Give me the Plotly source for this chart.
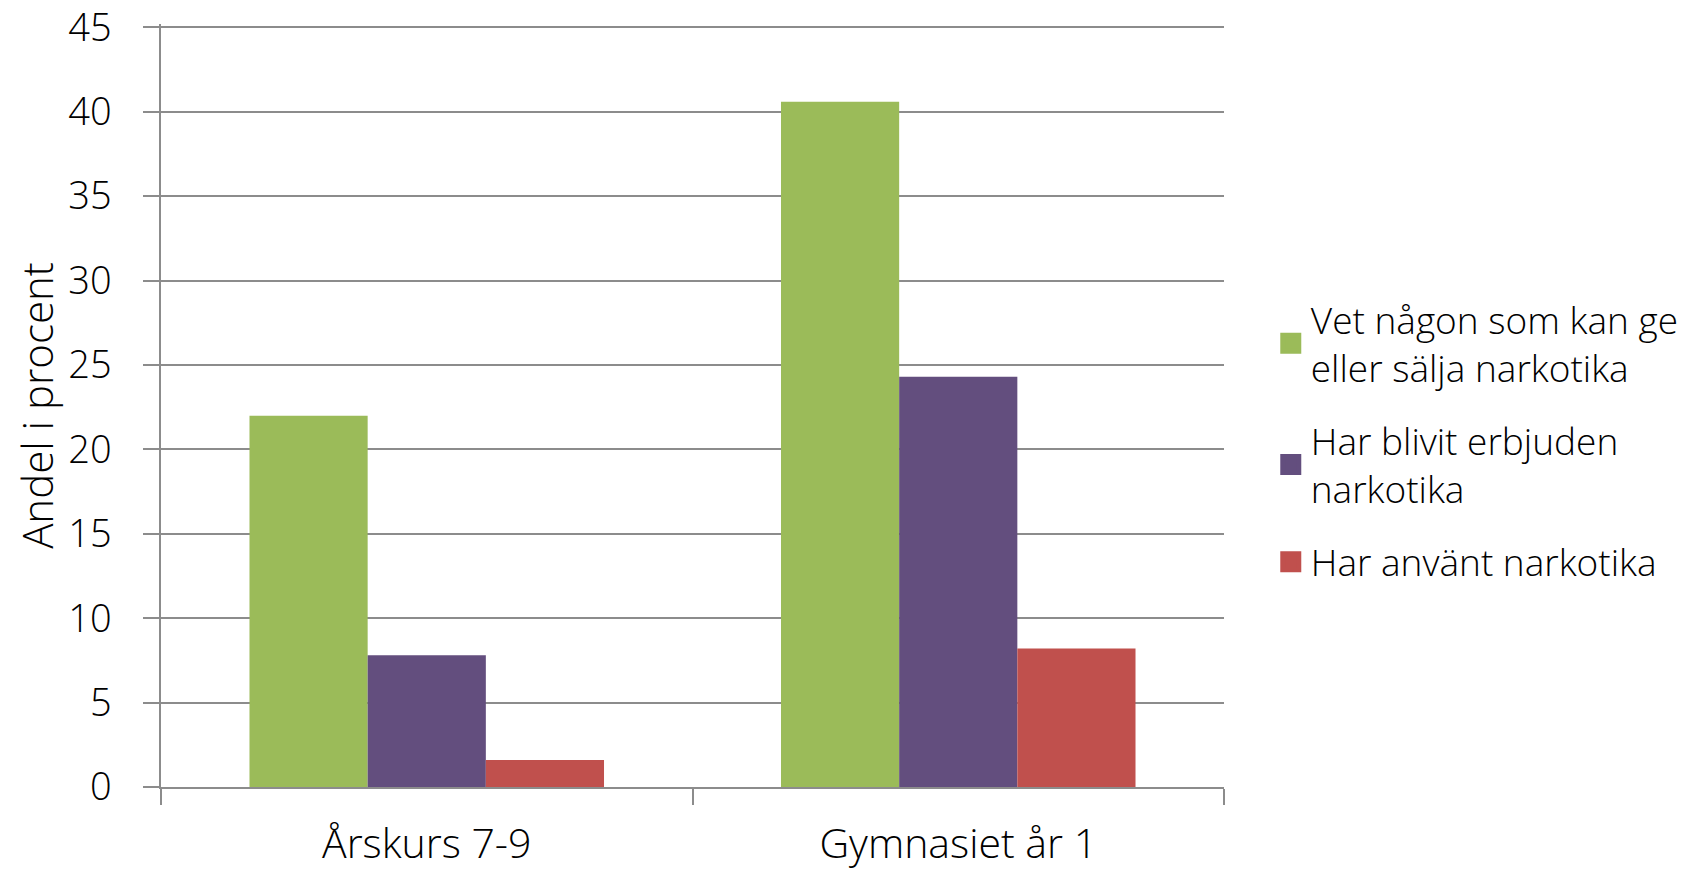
import plotly.graph_objects as go

categories = ["Årskurs 7-9", "Gymnasiet år 1"]
series_names = [
    "Vet någon som kan ge<br>eller sälja narkotika",
    "Har blivit erbjuden<br>narkotika",
    "Har använt narkotika",
]
vet_nagon = [22.0, 40.6]
erbjuden = [7.8, 24.3]
anvant = [1.6, 8.2]
colors = ["#9BBB59", "#634E7E", "#C0504D"]
y_ticks = [0, 5, 10, 15, 20, 25, 30, 35, 40, 45]

FONT = "Open Sans"
fig = go.Figure()
for i, (name, vals, col) in enumerate(zip(series_names, [vet_nagon, erbjuden, anvant], colors)):
    fig.add_trace(go.Bar(
        x=categories, y=vals, name=name,
        marker=dict(color=col, line=dict(width=0)),
        legendgroup=f"g{i}", showlegend=False,
    ))
    # legend entry with a larger square swatch
    fig.add_trace(go.Scatter(
        x=[None], y=[None], mode="markers", name=name,
        marker=dict(symbol="square", size=16, color=col,
                    line=dict(color=col, width=5)),
        legendgroup=f"g{i}", showlegend=True, hoverinfo="skip",
    ))

grid = "#8C8C8C"
fig.update_layout(
    width=1696, height=865,
    margin=dict(l=153, r=480, t=16, b=86, autoexpand=False),
    paper_bgcolor="white", plot_bgcolor="white",
    barmode="group", bargap=0.333, bargroupgap=0,
    font=dict(family=FONT, color="#000000", weight=300),
    showlegend=True,
    legend=dict(
        x=1.044, xanchor="left", y=0.653, yanchor="top",
        font=dict(family=FONT, size=37, color="#000000", weight=300),
        tracegroupgap=22, itemsizing="trace",
        bgcolor="rgba(0,0,0,0)",
    ),
    xaxis=dict(
        type="category", automargin=False,
        showline=True, linecolor=grid, linewidth=1.5,
        ticks="outside", ticklen=16, tickcolor=grid, tickwidth=1.5,
        tickson="boundaries",
        tickfont=dict(family=FONT, size=41, color="#000000", weight=300),
        ticklabelstandoff=20,
        showgrid=False,
    ),
    yaxis=dict(
        range=[0, 45.2], tickvals=y_ticks, automargin=False,
        ticklabeloverflow="allow",
        showline=True, linecolor=grid, linewidth=1.5,
        ticks="outside", ticklen=16, tickcolor=grid, tickwidth=1.5,
        showgrid=True, gridcolor=grid, gridwidth=1.5,
        zeroline=False,
        tickfont=dict(family=FONT, size=38, color="#000000", weight=300),
        ticklabelstandoff=24,
        title=dict(text="Andel i procent", standoff=24,
                   font=dict(family=FONT, size=42, color="#000000", weight=300)),
    ),
)
fig.write_html("out.html")
